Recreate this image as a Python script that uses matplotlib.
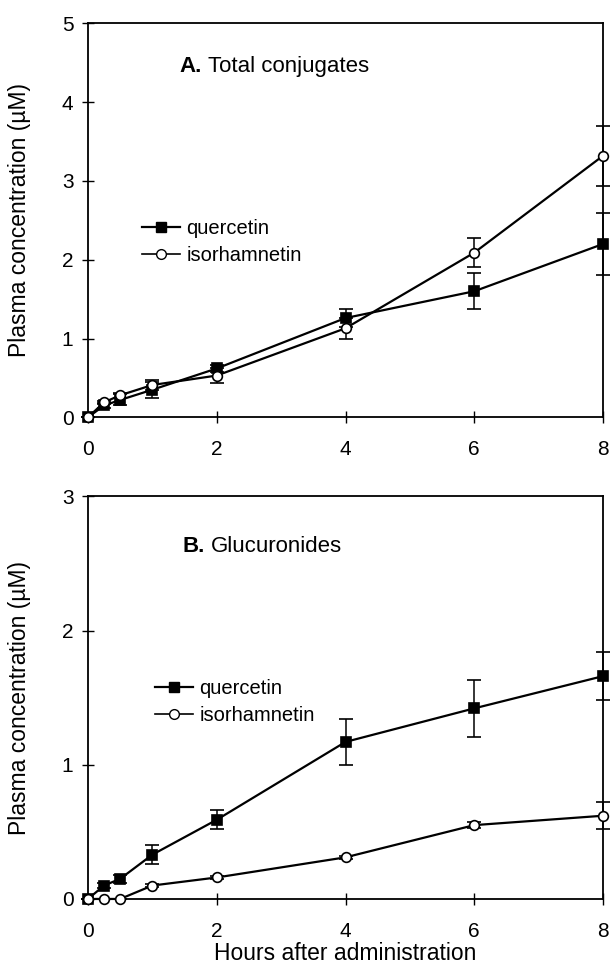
import matplotlib
matplotlib.use("Agg")
import matplotlib.pyplot as plt
from matplotlib.lines import Line2D

plt.rcParams['font.family'] = ['Liberation Sans', 'DejaVu Sans']

# hours after administration
horas = [0, 0.25, 0.5, 1, 2, 4, 6, 8]

# A. Total conjugates
quer_A = [0, 0.15, 0.22, 0.35, 0.62, 1.26, 1.60, 2.20]
quer_A_err = [0, 0.03, 0.07, 0.10, 0.05, 0.12, 0.23, 0.39]
iso_A = [0, 0.19, 0.28, 0.41, 0.53, 1.13, 2.09, 3.32]
iso_A_err = [0, 0.02, 0.03, 0.06, 0.10, 0.13, 0.18, 0.38]

# B. Glucuronides
quer_B = [0, 0.10, 0.15, 0.33, 0.59, 1.17, 1.42, 1.66]
quer_B_err = [0, 0.02, 0.03, 0.07, 0.07, 0.17, 0.21, 0.18]
iso_B = [0, 0, 0, 0.10, 0.16, 0.31, 0.55, 0.62]
iso_B_err = [0, 0, 0, 0.01, 0.01, 0.01, 0.02, 0.10]

xticks = [0, 2, 4, 6, 8]


def panel(ax, q, qe, i, ie, ymax, titulo, pos):
    for y, e, mk, fc in [(q, qe, 's', 'black'), (i, ie, 'o', 'white')]:
        ax.errorbar(horas, y, yerr=e, color='black', lw=1.6, marker=mk,
                    markersize=7, markerfacecolor=fc, markeredgecolor='black',
                    markeredgewidth=1.2, elinewidth=1.1, capsize=5, capthick=1.1,
                    clip_on=False, zorder=3)
    ax.set_xlim(0, 8)
    ax.set_ylim(0, ymax)
    ax.set_xticks(xticks)
    ax.set_yticks(range(ymax + 1))
    ax.tick_params(axis='both', direction='inout', length=9, width=1,
                   labelsize=15, pad=6)
    ax.tick_params(axis='x', pad=12)
    for s in ax.spines.values():
        s.set_linewidth(1.3)
    ax.set_ylabel(u"Plasma concentration (\u00b5M)", fontsize=16.5)
    ax.yaxis.set_label_coords(-0.11, 0.5)

    # titulo del panel: letra en negrita
    nombre, resto = titulo.split(' ', 1)
    ax.text(pos[0], pos[1], nombre, transform=ax.transAxes, fontsize=16,
            fontweight='bold', va='center')
    ax.text(pos[0] + 0.055, pos[1], resto, transform=ax.transAxes,
            fontsize=16, va='center')

    handles = [Line2D([], [], color='black', lw=1.6, marker='s', markersize=7,
                      markerfacecolor='black'),
               Line2D([], [], color='black', lw=1.2, marker='o', markersize=7,
                      markerfacecolor='white')]
    ax.legend(handles, ['quercetin', 'isorhamnetin'], loc='center left',
              bbox_to_anchor=(pos[2], pos[3]), frameon=False, fontsize=14.5,
              handlelength=1.9, handletextpad=0.3, labelspacing=0.4,
              borderpad=0, borderaxespad=0)


fig = plt.figure(figsize=(6.11, 9.75), dpi=100)
ax1 = fig.add_axes([0.144, 0.572, 0.843, 0.404])
ax2 = fig.add_axes([0.144, 0.078, 0.843, 0.413])

panel(ax1, quer_A, quer_A_err, iso_A, iso_A_err, 5,
      "A. Total conjugates", (0.178, 0.89, 0.105, 0.445))
panel(ax2, quer_B, quer_B_err, iso_B, iso_B_err, 3,
      "B. Glucuronides", (0.184, 0.875, 0.13, 0.49))

ax2.set_xlabel("Hours after administration", fontsize=16.5, labelpad=1)

fig.savefig("out.png", dpi=100)
